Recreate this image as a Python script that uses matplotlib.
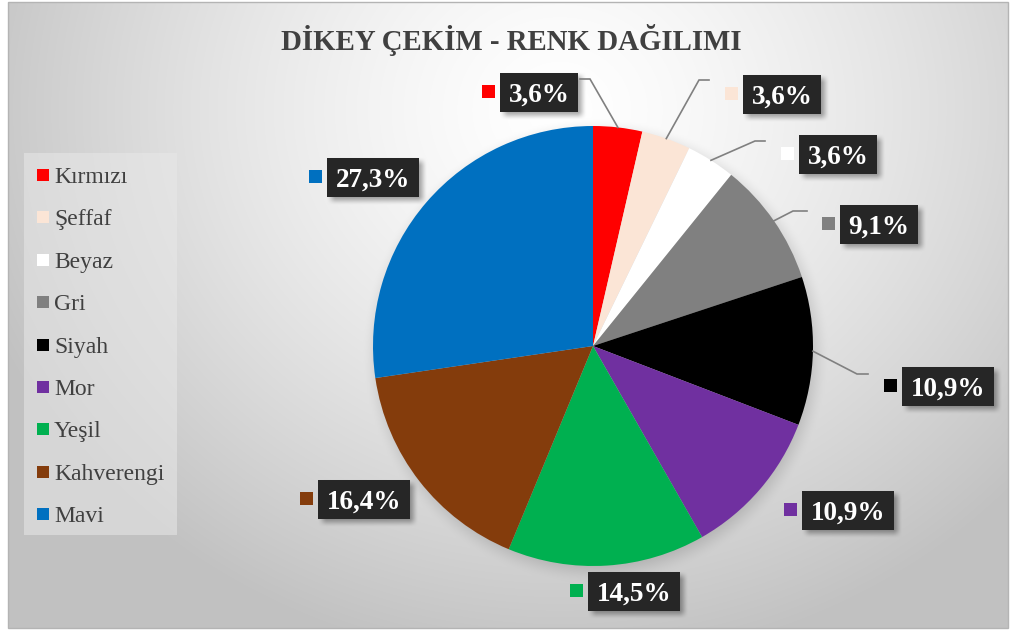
import numpy as np
import matplotlib
matplotlib.use("Agg")
import matplotlib.pyplot as plt
from matplotlib.patches import Rectangle

# ---- data -------------------------------------------------------------
categories = ["Kırmızı", "Şeffaf", "Beyaz", "Gri", "Siyah", "Mor", "Yeşil", "Kahverengi", "Mavi"]
shares = [3.6, 3.6, 3.6, 9.1, 10.9, 10.9, 14.5, 16.4, 27.3]
slice_colors = ["#FF0000", "#FBE5D6", "#FFFFFF", "#808080", "#000000",
                "#7030A0", "#00B050", "#843C0C", "#0070C0"]
title = "DİKEY ÇEKİM - RENK DAĞILIMI"

# ---- layout (pixel coordinates, origin top-left) -----------------------
W, H = 1013, 632
PIE_C = (593, 346)
PIE_R = 220
FRAME = (8, 2, 1008, 628)
label_centers = [(539, 92), (782, 94), (838, 154), (879, 224), (948, 386),
                 (848, 510), (634, 591), (364, 499), (373, 177)]
# elbow and end points of leader lines (None: label sits close to its slice)
leaders = [((590, 79), (580, 79)), ((699, 80), (709, 80)), ((755, 141), (765, 141)),
           ((793, 211), (807, 211)), ((857, 374), (868, 374)),
           None, None, None, None]
BOX_H = 39
SERIF = ["Liberation Serif", "DejaVu Serif"]

fig = plt.figure(figsize=(W / 100, H / 100), dpi=100)

# background axes (gradient image + shadows)
bg = fig.add_axes([0, 0, 1, 1])
bg.set_xlim(0, W)
bg.set_ylim(H, 0)
bg.axis("off")

# pie axes
pax = fig.add_axes([(PIE_C[0] - PIE_R) / W, (H - PIE_C[1] - PIE_R) / H,
                    2 * PIE_R / W, 2 * PIE_R / H])
wedges, _ = pax.pie(shares, colors=slice_colors, startangle=90, counterclock=False,
                    radius=1.0, wedgeprops=dict(linewidth=0))
pax.set_xlim(-1, 1)
pax.set_ylim(-1, 1)
pax.set_aspect("equal")
pax.axis("off")

# overlay axes for text, labels and legend
ov = fig.add_axes([0, 0, 1, 1])
ov.set_xlim(0, W)
ov.set_ylim(H, 0)
ov.axis("off")
ov.patch.set_alpha(0)

ov.text(511, 50, title, ha="center", va="baseline", fontsize=20.8,
        fontweight="bold", color="#404040", family=SERIF)

# data labels
label_texts = []
for share, (cx, cy) in zip(shares, label_centers):
    s = f"{share:.1f}%".replace(".", ",")
    t = ov.text(cx, cy + 10, s, ha="center", va="baseline", fontsize=19.5,
                fontweight="bold", color="white", family=SERIF, zorder=5)
    label_texts.append(t)

fig.canvas.draw()
renderer = fig.canvas.get_renderer()
boxes = []
for t, (cx, cy) in zip(label_texts, label_centers):
    bb = t.get_window_extent(renderer)
    bw = bb.width + 17
    boxes.append((cx - bw / 2, cy - BOX_H / 2, bw, BOX_H))

for (x0, y0, bw, bh), col in zip(boxes, slice_colors):
    ov.add_patch(Rectangle((x0, y0), bw, bh, facecolor="#262626",
                           edgecolor="none", zorder=4))
    ov.add_patch(Rectangle((x0 - 5 - 13, y0 + bh / 2 - 7), 13, 13, facecolor=col,
                           edgecolor="none", zorder=4))

# leader lines start at each slice's middle angle on the rim
for w, ld in zip(wedges, leaders):
    if ld is None:
        continue
    mid = np.deg2rad((w.theta1 + w.theta2) / 2)
    sx = PIE_C[0] + PIE_R * np.cos(mid)
    sy = PIE_C[1] - PIE_R * np.sin(mid)
    (ex, ey), (fx, fy) = ld
    ov.plot([sx, ex, fx], [sy, ey, fy], color="#808080", lw=1.2,
            solid_joinstyle="miter", zorder=3)

# legend panel
ov.add_patch(Rectangle((24, 153), 153, 382, facecolor="#e8e8e8", alpha=0.55,
                       edgecolor="none", zorder=2))
for i, (name, col) in enumerate(zip(categories, slice_colors)):
    yc = 175 + i * 42.4
    ov.add_patch(Rectangle((37, yc - 6), 12, 12, facecolor=col, edgecolor="none", zorder=3))
    ov.text(54, yc + 8, name, ha="left", va="baseline", fontsize=17,
            color="#404040", family=SERIF, zorder=3)

# ---- background image: radial gradient with soft shadows ---------------
yy, xx = np.mgrid[0:H, 0:W].astype(float) + 0.5
d = np.sqrt(((xx - 560) / 620) ** 2 + ((yy - 110) / 560) ** 2)
val = 255 - 62 * np.clip(d, 0, 1) ** 1.4


def smooth(v):
    v = np.clip(v, 0, 1)
    return v * v * (3 - 2 * v)


# pie shadow
dist = np.sqrt((xx - PIE_C[0] - 3) ** 2 + (yy - PIE_C[1] - 5) ** 2)
blur = 14
shade = smooth((PIE_R + blur - dist) / (2 * blur))
val = val * (1 - 0.16 * shade)

# label box shadows
for (x0, y0, bw, bh) in boxes:
    ox, oy, b = 4, 4, 5
    fx_ = smooth((xx - (x0 + ox) + b) / (2 * b)) * smooth(((x0 + ox + bw) - xx + b) / (2 * b))
    fy_ = smooth((yy - (y0 + oy) + b) / (2 * b)) * smooth(((y0 + oy + bh) - yy + b) / (2 * b))
    val = val * (1 - 0.35 * fx_ * fy_)

# outside the chart frame is plain white
x1, y1, x2, y2 = FRAME
outside = (xx < x1) | (xx > x2) | (yy < y1) | (yy > y2)
val[outside] = 255
img = np.repeat((val / 255.0)[:, :, None], 3, axis=2)
bg.imshow(img, extent=(0, W, H, 0), origin="upper", interpolation="bilinear", aspect="auto")
bg.set_xlim(0, W)
bg.set_ylim(H, 0)
bg.add_patch(Rectangle((x1, y1), x2 - x1, y2 - y1, facecolor="none",
                       edgecolor="#b4b4b4", lw=1.0))

fig.savefig("out.png", dpi=100)
